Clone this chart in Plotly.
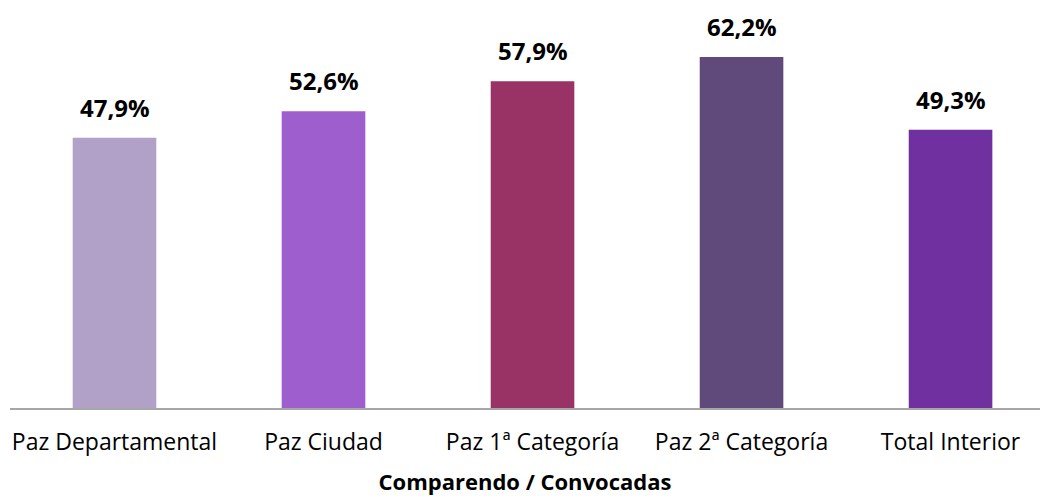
import plotly.graph_objects as go

categories = ["Paz Departamental", "Paz Ciudad", "Paz 1ª Categoría", "Paz 2ª Categoría", "Total Interior"]
values = [47.9, 52.6, 57.9, 62.2, 49.3]
labels = ["47,9%", "52,6%", "57,9%", "62,2%", "49,3%"]
colors = ["#B1A0C7", "#9E5ECE", "#993366", "#604A7B", "#7030A0"]
x_title = "Comparendo / Convocadas"

FONT = "Open Sans"

fig = go.Figure()
fig.add_trace(go.Bar(
    x=list(range(len(categories))), y=values,
    marker=dict(color=colors, line=dict(width=0)),
    width=0.40,
    hoverinfo="skip",
))
for i, (v, t) in enumerate(zip(values, labels)):
    fig.add_annotation(x=i, y=v, text=t, showarrow=False, yanchor="bottom", yshift=12,
                       font=dict(family=FONT, size=24, color="#000000", weight="bold"))

fig.update_layout(
    width=1041, height=496,
    margin=dict(l=10, r=1, t=13, b=88),
    paper_bgcolor="white", plot_bgcolor="white",
    showlegend=False,
    xaxis=dict(
        tickmode="array", tickvals=list(range(len(categories))), ticktext=categories,
        range=[-0.5, 4.428],
        showline=True, linecolor="#A6A6A6", linewidth=2,
        showgrid=False, zeroline=False, ticks="",
        ticklabelstandoff=12,
        tickfont=dict(family=FONT, size=23, color="#000000"),
        title=dict(text=x_title, font=dict(family=FONT, size=22, color="#000000", weight="bold"), standoff=20),
        automargin=False,
    ),
    yaxis=dict(range=[0, 70], visible=False, showgrid=False, zeroline=False),
)

fig.write_html("out.html", config={"displayModeBar": False},
               post_script="document.body.style.margin='0';document.body.style.overflow='hidden';")
